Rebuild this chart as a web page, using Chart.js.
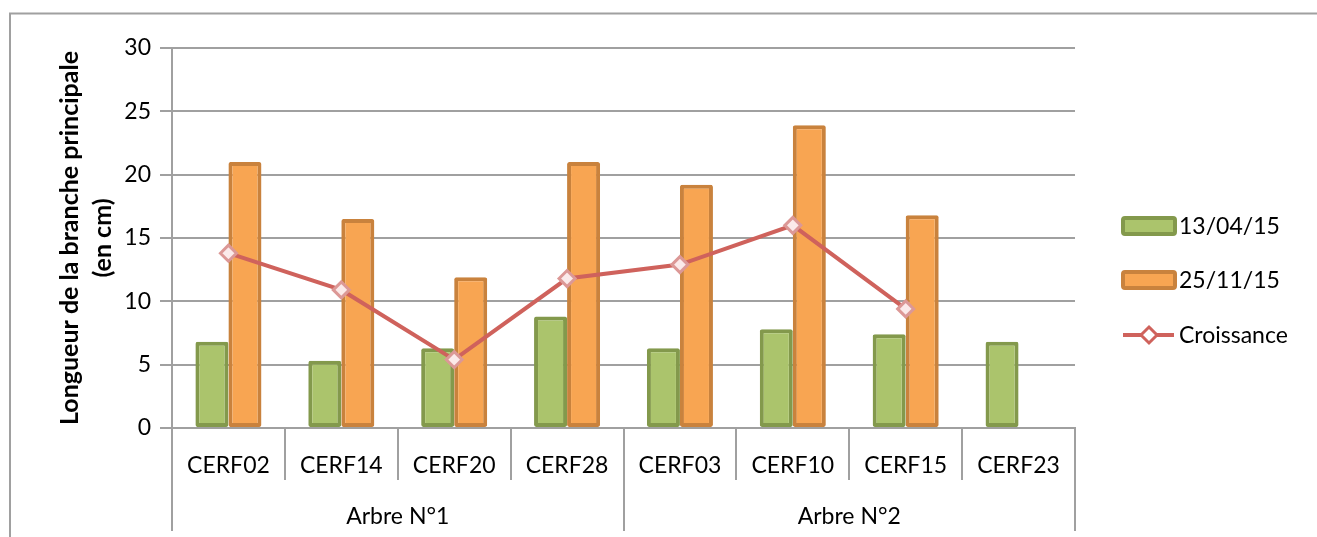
<!DOCTYPE html>
<html lang="fr">
<head>
<meta charset="utf-8">
<title>Longueur de la branche principale</title>
<script src="https://cdn.jsdelivr.net/npm/chart.js@4.4.1/dist/chart.umd.min.js"></script>
<style>
  html, body { margin: 0; padding: 0; background: #ffffff; }
  #wrap { width: 1317px; height: 537px; position: relative; }
  canvas { display: block; }
</style>
</head>
<body>
<div id="wrap"><canvas id="chart" width="1317" height="537"></canvas></div>
<script>
// Branch length per tree, measured on two dates, with the growth in between
const categories = ['CERF02', 'CERF14', 'CERF20', 'CERF28', 'CERF03', 'CERF10', 'CERF15', 'CERF23'];
const groupLabels = ['Arbre N°1', 'Arbre N°2'];
const groupSizes = [4, 4];
const seriesNames = ['13/04/15', '25/11/15', 'Croissance'];
const avril15 = [6.8, 5.3, 6.3, 8.8, 6.3, 7.8, 7.4, 6.8];
const novembre15 = [21, 16.5, 11.9, 21, 19.2, 23.9, 16.8, null];
const croissance = [13.8, 10.9, 5.4, 11.8, 12.9, 16, 9.4, null];
const yTicks = [0, 5, 10, 15, 20, 25, 30];
const yTitle = ['Longueur de la branche principale', '(en cm)'];

const FONT = 'Lato, "Open Sans", sans-serif';
const AXIS = '#a0a0a0';
const GREEN = '#abc46c', GREEN_LINE = '#83994c';
const ORANGE = '#f8a552', ORANGE_LINE = '#c9823d';
const RED = '#cf625c';

// Outer frame of the chart object
const framePlugin = {
  id: 'frame',
  beforeDraw(chart) {
    const { ctx } = chart;
    ctx.save();
    ctx.fillStyle = '#ffffff';
    ctx.fillRect(0, 0, chart.width, chart.height);
    ctx.strokeStyle = AXIS;
    ctx.lineWidth = 2;
    ctx.beginPath();
    ctx.moveTo(10, chart.height);
    ctx.lineTo(10, 13.5);
    ctx.lineTo(chart.width, 13.5);
    ctx.stroke();
    ctx.restore();
  }
};

// Two-level category axis: sample names, then tree groups
const multiLevelAxis = {
  id: 'multiLevelAxis',
  afterDraw(chart) {
    const { ctx } = chart;
    const x = chart.scales.x;
    const n = categories.length;
    const step = (x.right - x.left) / n;
    const top = x.top;
    const edges = [0];
    groupSizes.reduce((acc, s) => { edges.push(acc + s); return acc + s; }, 0);
    ctx.save();
    ctx.strokeStyle = AXIS;
    ctx.lineWidth = 2;
    for (let i = 0; i <= n; i++) {
      const px = Math.round(x.left + i * step);
      const bottom = edges.includes(i) ? top + 103 : top + 52;
      ctx.beginPath();
      ctx.moveTo(px, top);
      ctx.lineTo(px, bottom);
      ctx.stroke();
    }
    ctx.fillStyle = '#000000';
    ctx.font = '23px ' + FONT;
    ctx.textAlign = 'center';
    ctx.textBaseline = 'middle';
    categories.forEach((c, i) => ctx.fillText(c, x.getPixelForValue(i), top + 38));
    let start = 0;
    groupLabels.forEach((g, k) => {
      const cx = x.left + (start + groupSizes[k] / 2) * step;
      ctx.fillText(g, cx, top + 89);
      start += groupSizes[k];
    });
    ctx.restore();
  }
};

// Legend on the right side
const sideLegend = {
  id: 'sideLegend',
  afterDraw(chart) {
    const { ctx, chartArea } = chart;
    const sx = chartArea.right + 46;
    const tx = chartArea.right + 104;
    const rows = [chartArea.top + 178, chartArea.top + 232, chartArea.top + 287];
    ctx.save();
    ctx.font = '23px ' + FONT;
    ctx.textBaseline = 'middle';
    ctx.textAlign = 'left';
    ctx.fillStyle = '#000000';
    const boxes = [[GREEN, GREEN_LINE], [ORANGE, ORANGE_LINE]];
    boxes.forEach(([fill, line], i) => {
      const y = rows[i];
      ctx.fillStyle = fill;
      ctx.strokeStyle = line;
      ctx.lineWidth = 4;
      ctx.beginPath();
      ctx.roundRect(sx + 2, y - 8, 52, 16, 2);
      ctx.fill();
      ctx.stroke();
      ctx.fillStyle = '#000000';
      ctx.fillText(seriesNames[i], tx, y + 1);
    });
    const ly = rows[2];
    ctx.strokeStyle = RED;
    ctx.lineWidth = 4;
    ctx.beginPath();
    ctx.moveTo(sx + 2, ly);
    ctx.lineTo(sx + 53, ly);
    ctx.stroke();
    ctx.beginPath();
    ctx.moveTo(sx + 28, ly - 8);
    ctx.lineTo(sx + 36, ly);
    ctx.lineTo(sx + 28, ly + 8);
    ctx.lineTo(sx + 20, ly);
    ctx.closePath();
    ctx.fillStyle = '#ffffff';
    ctx.fill();
    ctx.lineWidth = 3;
    ctx.stroke();
    ctx.fillStyle = '#000000';
    ctx.fillText(seriesNames[2], tx, ly + 1);
    ctx.restore();
  }
};

new Chart(document.getElementById('chart'), {
  data: {
    labels: categories,
    datasets: [
      {
        type: 'line',
        label: seriesNames[2],
        data: croissance,
        order: 0,
        borderColor: RED,
        borderWidth: 4,
        pointStyle: 'rectRot',
        pointRadius: 8,
        pointBorderWidth: 3,
        pointBackgroundColor: '#fbeaea',
        pointBorderColor: '#dc9896',
        spanGaps: false,
        tension: 0
      },
      {
        type: 'bar',
        label: seriesNames[0],
        data: avril15,
        order: 1,
        backgroundColor: GREEN,
        borderColor: GREEN_LINE,
        borderWidth: 4,
        borderSkipped: false,
        borderRadius: 2,
        categoryPercentage: 0.585,
        barPercentage: 1
      },
      {
        type: 'bar',
        label: seriesNames[1],
        data: novembre15,
        order: 1,
        backgroundColor: ORANGE,
        borderColor: ORANGE_LINE,
        borderWidth: 4,
        borderSkipped: false,
        borderRadius: 2,
        categoryPercentage: 0.585,
        barPercentage: 1
      }
    ]
  },
  options: {
    responsive: false,
    devicePixelRatio: 1,
    animation: false,
    layout: { padding: { top: 48, right: 242, bottom: 0, left: 0 } },
    plugins: {
      legend: { display: false },
      tooltip: { enabled: false }
    },
    scales: {
      x: {
        type: 'category',
        offset: true,
        grid: { display: false },
        border: { display: true, color: AXIS, width: 2 },
        ticks: { display: false },
        afterFit(scale) { scale.height = 109; }
      },
      y: {
        min: 0,
        max: 30,
        afterBuildTicks(scale) { scale.ticks = yTicks.map(v => ({ value: v })); },
        grid: { color: AXIS, lineWidth: 2, tickLength: 12, drawTicks: true },
        border: { display: true, color: AXIS, width: 2 },
        ticks: {
          color: '#000000',
          padding: 9,
          font: { family: FONT, size: 23 }
        },
        title: {
          display: true,
          text: yTitle,
          color: '#000000',
          font: { family: FONT, size: 25, weight: 'bold', lineHeight: '33px' },
          padding: { top: 53, bottom: 0 }
        },
        afterFit(scale) { scale.width = 172; }
      }
    }
  },
  plugins: [framePlugin, multiLevelAxis, sideLegend]
});
</script>
</body>
</html>
